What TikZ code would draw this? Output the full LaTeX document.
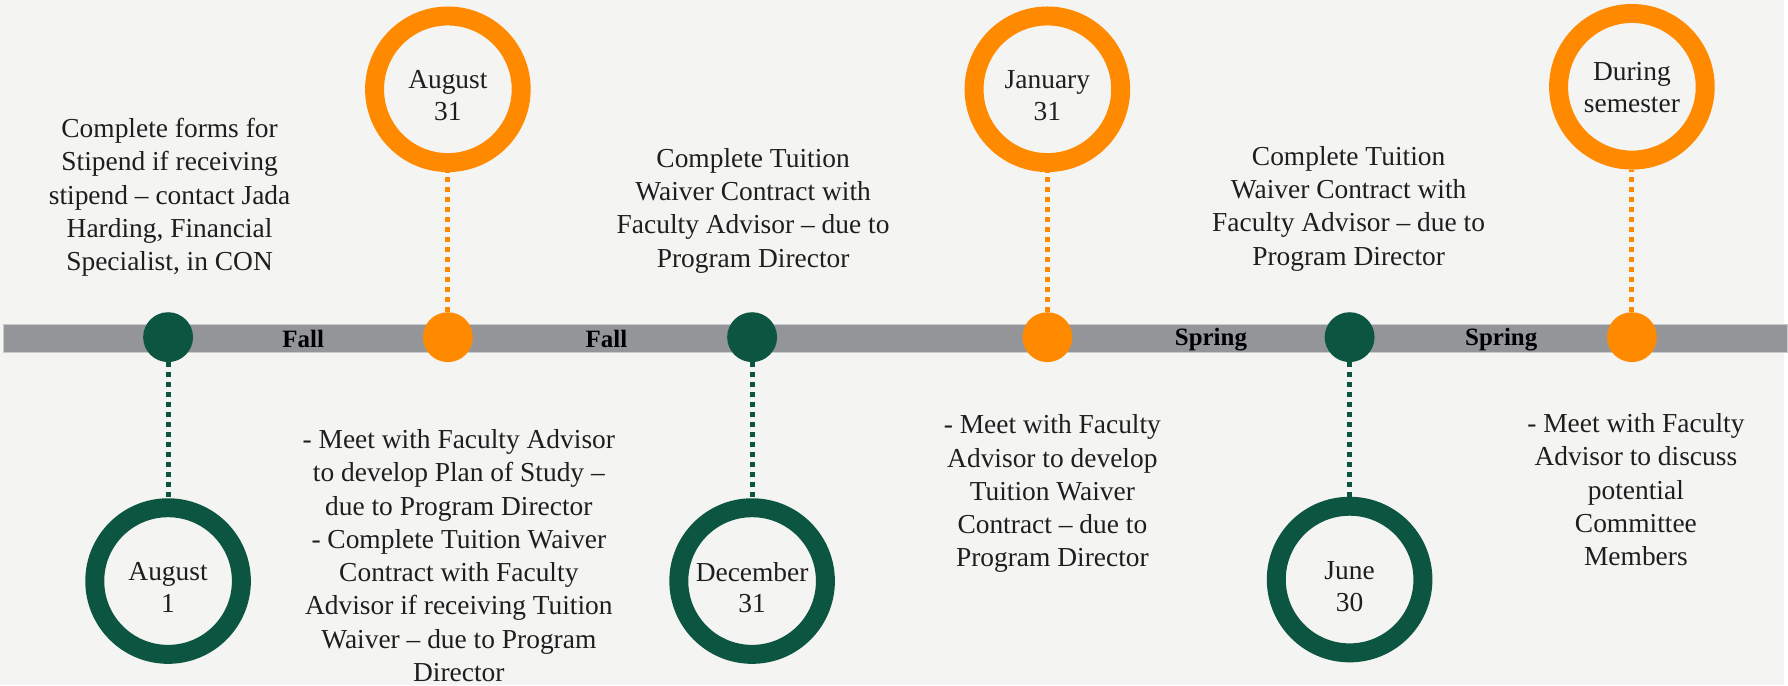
\documentclass[tikz,border=0pt]{standalone}
\usepackage{fontspec}
\setmainfont{Liberation Serif}
\definecolor{bgc}{HTML}{F4F4F2}
\definecolor{org}{HTML}{FF8A00}
\definecolor{grn}{HTML}{0C5641}
\definecolor{bargray}{HTML}{939598}
\definecolor{barline}{HTML}{C9CACC}
\definecolor{txt}{HTML}{1E1E1E}
\pgfdeclarelayer{bglayer}
\pgfsetlayers{bglayer,main}
\newcommand{\bodyfont}{\fontsize{13.75}{16.7}\selectfont}
\newcommand{\seasonfont}{\fontsize{12.5}{14}\selectfont\bfseries}
\tikzset{
  ring/.style={circle, draw=#1, line width=9.5pt, minimum size=73.5pt, inner sep=0pt},
  datetxt/.style={text=txt, font=\fontsize{13.75}{15.8}\selectfont, align=center, inner sep=0pt},
  dot/.style={circle, fill=#1, minimum size=25pt, inner sep=0pt},
  link/.style={draw=#1, line width=2.5pt, dash pattern=on 2.5pt off 2.5pt},
  desc/.style={text=txt, font=\bodyfont, align=center, inner sep=0pt},
  season/.style={text=black, font=\seasonfont, inner sep=0pt},
}
\begin{document}
\begin{tikzpicture}[x=0.5pt,y=-0.5pt]
\begin{pgfonlayer}{bglayer}
  \fill[bgc] (0,0) rectangle (1788,687);
  \filldraw[fill=bargray, draw=barline, line width=0.5pt] (4,325) rectangle (1792,353);
\end{pgfonlayer}
\useasboundingbox (0,0) rectangle (1788,687);

% dots on the bar
\node[dot=grn] (d1) at (168.5,338) {};
\node[dot=org] (d2) at (449,338) {};
\node[dot=grn] (d3) at (754,338) {};
\node[dot=org] (d4) at (1050,338) {};
\node[dot=grn] (d5) at (1353,338) {};
\node[dot=org] (d6) at (1636,338) {};

% rings
\node[ring=grn] (r1) at (168.5,582.5) {};
\node[ring=org] (r2) at (449,89.5) {};
\node[ring=grn] (r3) at (754,582.5) {};
\node[ring=org] (r4) at (1050,89.5) {};
\node[ring=grn] (r5) at (1353,581) {};
\node[ring=org] (r6) at (1636,87) {};

% dates inside the rings
\node[datetxt, yshift=-3.3pt] (l1) at (r1) {August\\1};
\node[datetxt, yshift=-3.1pt] (l2) at (r2) {August\\31};
\node[datetxt, yshift=-3.3pt] (l3) at (r3) {December\\31};
\node[datetxt, yshift=-3.1pt] (l4) at (r4) {January\\31};
\node[datetxt, yshift=-3.5pt] (l5) at (r5) {June\\30};
\node[datetxt, yshift=-0.4pt] (l6) at (r6) {During\\semester};

% connectors
\begin{pgfonlayer}{bglayer}
  \draw[link=grn] (d1) -- (r1);
  \draw[link=org] (d2) -- (r2);
  \draw[link=grn] (d3) -- (r3);
  \draw[link=org] (d4) -- (r4);
  \draw[link=grn] (d5) -- (r5);
  \draw[link=org] (d6) -- (r6);
\end{pgfonlayer}

% season labels
\node[season] (s1) at (304,340) {Fall};
\node[season] (s2) at (608,340) {Fall};
\node[season] (s3) at (1214,340) {Spring};
\node[season] (s4) at (1505,340) {Spring};

% descriptions
\node[desc] (t1) at (170,198) {Complete forms for\\Stipend if receiving\\stipend – contact Jada\\Harding, Financial\\Specialist, in CON};
\node[desc] (t2) at (460,557) {- Meet with Faculty Advisor\\to develop Plan of Study –\\due to Program Director\\- Complete Tuition Waiver\\Contract with Faculty\\Advisor if receiving Tuition\\Waiver – due to Program\\Director};
\node[desc] (t3) at (755,211) {Complete Tuition\\Waiver Contract with\\Faculty Advisor – due to\\Program Director};
\node[desc] (t4) at (1055,495) {- Meet with Faculty\\Advisor to develop\\Tuition Waiver\\Contract – due to\\Program Director};
\node[desc] (t5) at (1352,209) {Complete Tuition\\Waiver Contract with\\Faculty Advisor – due to\\Program Director};
\node[desc] (t6) at (1640,491) {- Meet with Faculty\\Advisor to discuss\\potential\\Committee\\Members};
\end{tikzpicture}
\end{document}
